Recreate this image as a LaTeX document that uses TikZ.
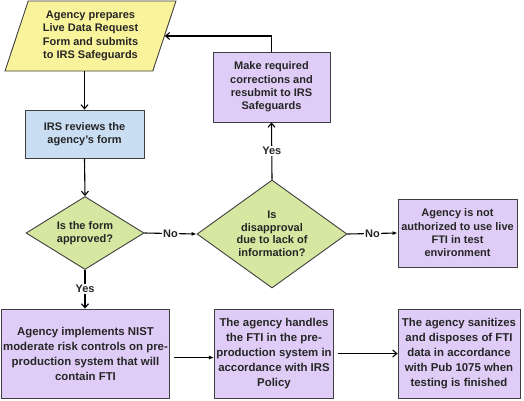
\documentclass[tikz,border=0pt]{standalone}
\usepackage{fontspec}
\setmainfont{Liberation Sans}
\usetikzlibrary{shapes.geometric,arrows.meta}
\definecolor{prepY}{HTML}{F9F39B}
\definecolor{revB}{HTML}{C9DEF2}
\definecolor{decG}{HTML}{D6E7A1}
\definecolor{actP}{HTML}{DFCDF7}
\definecolor{edgeC}{HTML}{3F3F3F}
\tikzset{
  every node/.style={font=\fontsize{11}{13.3}\selectfont\bfseries, text=black!85},
  boxst/.style={rectangle, draw=edgeC, line width=0.9pt, align=center, inner xsep=2pt, inner ysep=0pt},
  bigbox/.style={boxst, fill=actP, font=\fontsize{11.4}{15}\selectfont\bfseries, minimum height=89pt},
  decst/.style={diamond, draw=edgeC, line width=0.9pt, fill=decG, inner sep=0pt},
  tagst/.style={fill=white, inner sep=1pt},
  openarr/.style={draw=black, line width=1.1pt, -{Straight Barb[length=4pt,width=7pt]}},
  fillarr/.style={draw=black, line width=1.1pt, -{Latex[length=5pt,width=4pt]}},
  plainln/.style={draw=black, line width=1.1pt}
}
\begin{document}
\begin{tikzpicture}[x=1pt,y=-1pt]
\useasboundingbox (0,0) rectangle (524,400);
\node[trapezium, trapezium left angle=65, trapezium right angle=115, trapezium stretches body,
  minimum width=171pt, minimum height=70pt, inner sep=0pt, draw=edgeC, line width=0.9pt,
  fill=prepY, align=center] (prep) at (90.5,36)
  {Agency prepares\\Live Data Request\\Form and submits\\to IRS Safeguards};
\node[boxst, fill=revB, minimum width=119pt, minimum height=48pt] (review) at (84.5,134)
  {IRS reviews the\\agency's form};
\node[decst, minimum width=118pt, minimum height=73pt,
  label={[align=center]center:{Is the form\\approved?}}] (d1) at (85,233) {};
\node[decst, minimum width=150pt, minimum height=108pt,
  label={[align=center, font=\fontsize{11}{12.5}\selectfont\bfseries]center:{Is\\disapproval\\due to lack of\\information?}}] (d2) at (272,234) {};
\node[boxst, fill=actP, minimum width=117pt, minimum height=70pt] (corr) at (271.5,87)
  {Make required\\corrections and\\resubmit to IRS\\Safeguards};
\node[boxst, fill=actP, minimum width=119pt, minimum height=68pt] (notauth) at (457.5,233)
  {Agency is not\\authorized to use live\\FTI in test\\environment};
\node[bigbox, minimum width=165pt] (b1) at (85.5,353.5)
  {Agency implements NIST\\moderate risk controls on pre-\\production system that will\\contain FTI};
\node[bigbox, minimum width=118pt] (b2) at (274,353.5)
  {The agency handles\\the FTI in the pre-\\production system in\\accordance with IRS\\Policy};
\node[bigbox, minimum width=122pt] (b3) at (459,353.5)
  {The agency sanitizes\\and disposes of FTI\\data in accordance\\with Pub 1075 when\\testing is finished};
% connectors
\draw[openarr] (prep.south -| review.north) -- (review.north);
\draw[openarr] (review.south) -- (d1.north);
\draw[fillarr] (d1.east) -- node[tagst] {No} (d2.west);
\draw[fillarr] (d2.east) -- node[tagst] {No} (notauth.west);
\draw[openarr] (d2.north) -- node[tagst] {Yes} (corr.south);
\draw[openarr] (corr.north) |- (prep.east);
\draw[openarr] (d1.south) -- node[tagst] {Yes} (b1.north -| d1.south);
\draw[fillarr, shorten <=4pt] ([yshift=-4pt]b1.east) -- ([yshift=-4pt]b1.east -| b2.west);
\draw[openarr, shorten <=4pt] (b2.east) -- (b3.west);
\end{tikzpicture}
\end{document}
